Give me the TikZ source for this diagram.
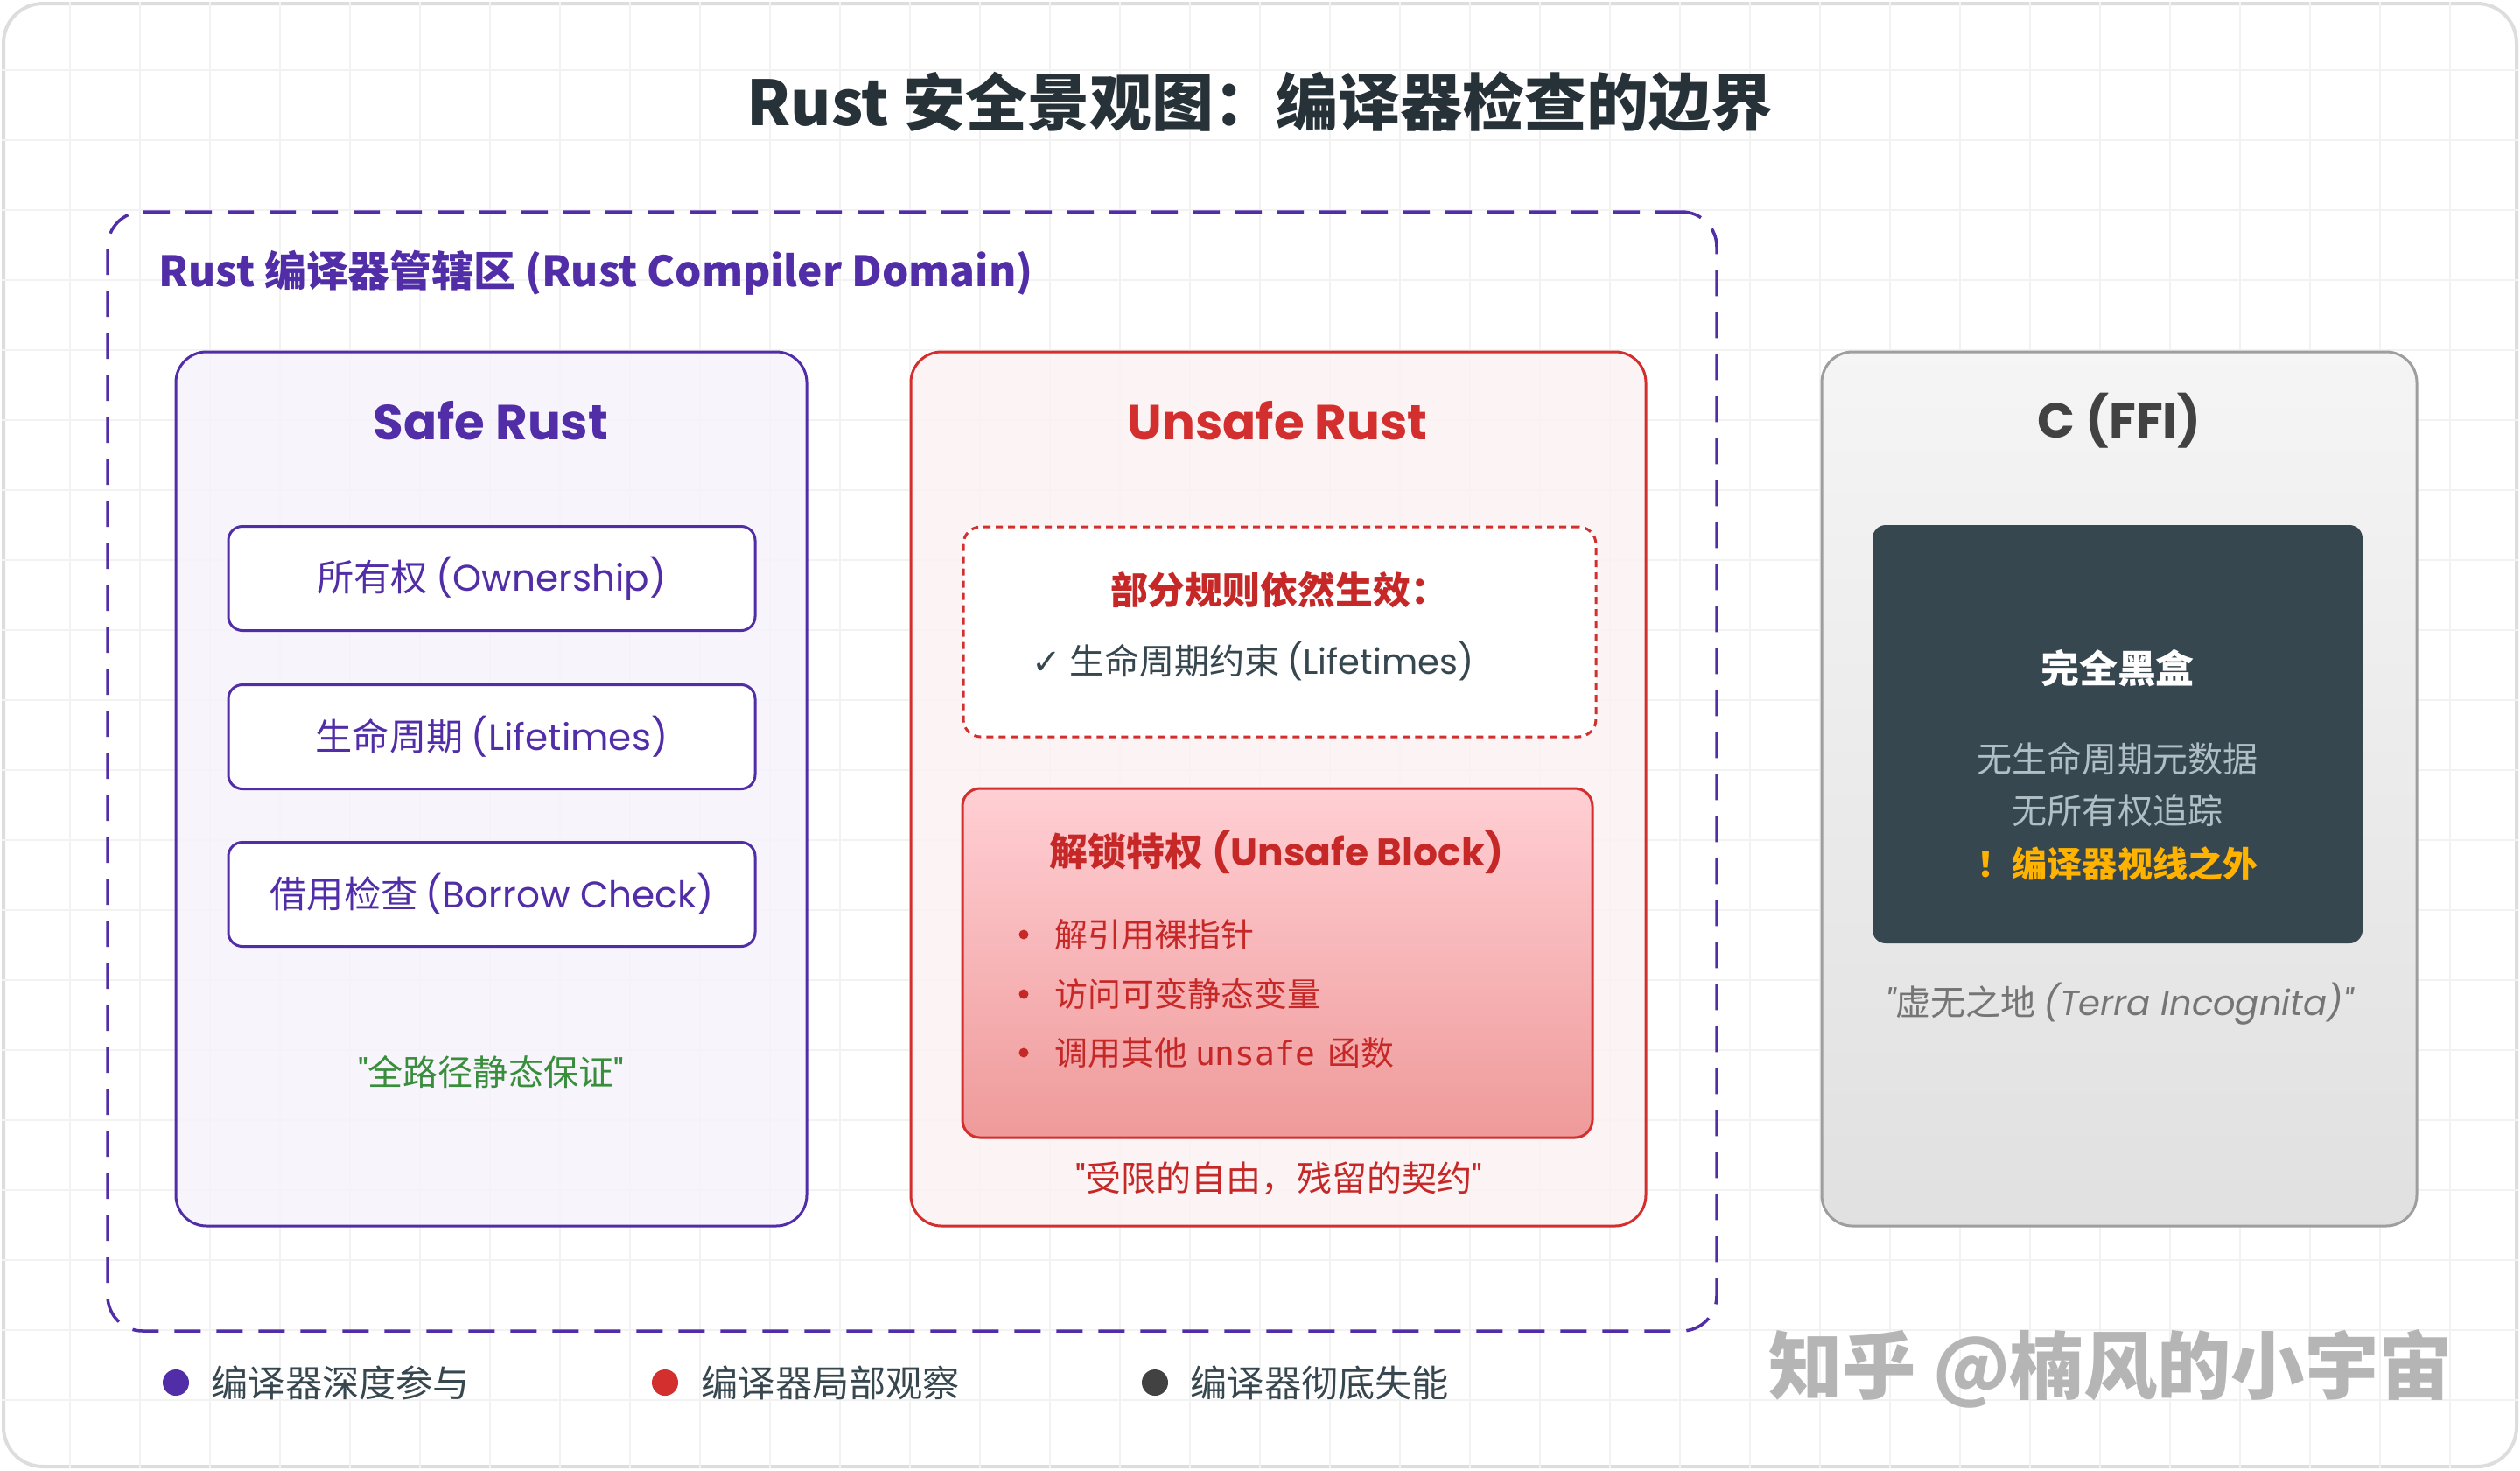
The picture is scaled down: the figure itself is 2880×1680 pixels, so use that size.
\documentclass[tikz,border=0pt]{standalone}
\usepackage{fontspec}
\setmainfont{Noto Sans CJK SC}
\newfontfamily\lat{Poppins}
\newfontfamily\mono{DejaVu Sans Mono}
\newfontfamily\sym{DejaVu Sans}
\definecolor{ink}{HTML}{263238}
\definecolor{purp}{HTML}{512DA8}
\definecolor{redc}{HTML}{D32F2F}
\definecolor{redtext}{HTML}{C62828}
\definecolor{slate}{HTML}{37474F}
\definecolor{greyc}{HTML}{9E9E9E}
\definecolor{greytext}{HTML}{424242}
\definecolor{mist}{HTML}{B0BEC5}
\definecolor{amber}{HTML}{FFB300}
\definecolor{leaf}{HTML}{388E3C}
\definecolor{quotegrey}{HTML}{757575}
\definecolor{gridc}{HTML}{F2F2F2}
\definecolor{framec}{HTML}{DDDDDD}
\definecolor{pinktop}{HTML}{FFCFD4}
\definecolor{pinkbottom}{HTML}{EF9A9A}
\begin{document}
\begin{tikzpicture}[
  x=0.1mm, y=-0.1mm,
  txt/.style={inner sep=0pt},
  heading/.style={txt, font=\lat\bfseries\fontsize{16}{19}\selectfont},
  panel/.style={rounded corners=3.5mm, line width=0.3mm, minimum height=99.9mm},
  featurebox/.style={
    draw=purp,
    fill=white,
    rounded corners=1.6mm,
    line width=0.3mm,
    minimum width=60.2mm,
    minimum height=11.9mm,
    text=purp,
    font=\fontsize{12}{14}\selectfont
  },
  quoteline/.style={txt, font=\fontsize{11.4}{14}\selectfont},
  bulletdot/.style={circle, fill=redtext, inner sep=0pt, minimum size=1.1mm},
  bullettext/.style={txt, anchor=west, text=redtext, font=\fontsize{10.8}{13}\selectfont},
  legenddot/.style={circle, inner sep=0pt, minimum size=3mm},
  legendtext/.style={txt, anchor=west, text=slate, font=\fontsize{12}{14}\selectfont}
]
\useasboundingbox (0,0) rectangle (2880,1680);
\node[draw=framec, line width=0.4mm, fill=white, rounded corners=4.5mm,
  minimum width=287.2mm, minimum height=167.2mm] (canvas) at (1440,840) {};
\begin{scope}
  \clip[rounded corners=4.5mm] (canvas.north west) rectangle (canvas.south east);
  \draw[gridc, line width=0.12mm] (0,0) grid[step=8mm] (2880,1680);
\end{scope}

\node[txt, text=ink, font=\bfseries\fontsize{20.2}{24}\selectfont] (title) at (1440,116)
  {Rust 安全景观图：编译器检查的边界};

\node[draw=purp, line width=0.35mm, dash pattern=on 3mm off 1.8mm, rounded corners=4mm,
  minimum width=183.9mm, minimum height=127.9mm] (domain) at (1042.5,881.5) {};
\node[txt, anchor=west, text=purp, font=\bfseries\fontsize{13.6}{16}\selectfont] (domainlabel)
  at (181,312) {Rust 编译器管辖区 (Rust Compiler Domain)};

\node[panel, draw=purp, fill=purp!5, fill opacity=0.85, minimum width=72.1mm] (safe) at (561.5,901.5) {};
\node[panel, draw=redc, fill=redc!6, fill opacity=0.85, minimum width=84mm] (unsafe) at (1461,901.5) {};
\node[panel, draw=greyc, top color=black!4, bottom color=black!12, minimum width=68mm] (cffi) at (2422,901.5) {};

\node[heading, text=purp] (safehead) at (561,481) {Safe Rust};
\node[heading, text=redc] (unsafehead) at (1460,481) {Unsafe Rust};
\node[heading, text=greytext] (cffihead) at (2422,481) {C (FFI)};

\node[featurebox] (own) at (562,661) {所有权 {\lat (Ownership)}};
\node[featurebox] (life) at (562,842) {生命周期 {\lat (Lifetimes)}};
\node[featurebox] (borrow) at (562,1022) {借用检查 {\lat (Borrow Check)}};
\node[quoteline, text=leaf] (safequote) at (561,1225) {{\lat"}全路径静态保证{\lat"}};

\node[draw=redc, fill=white, line width=0.3mm, dash pattern=on 0.8mm off 0.6mm, rounded corners=2mm,
  minimum width=72.3mm, minimum height=24mm] (rules) at (1462.5,722) {};
\node[txt, text=redtext, font=\bfseries\fontsize{12.2}{15}\selectfont] (ruleshead) at (1462,674) {部分规则依然生效：};
\node[txt, text=slate, font=\fontsize{11.4}{14}\selectfont] (rulesitem) at (1432,755)
  {{\sym ✓} 生命周期约束 {\lat (Lifetimes)}};

\node[draw=redc, line width=0.3mm, rounded corners=2mm, top color=pinktop, bottom color=pinkbottom,
  minimum width=72mm, minimum height=39.9mm] (unlock) at (1460,1100.5) {};
\node[txt, text=redtext, font=\bfseries\fontsize{12.5}{15}\selectfont] (unlockhead) at (1459,974)
  {解锁特权 {\lat (Unsafe Block)}};
\node[bulletdot] (dotderef) at (1170,1068) {};
\node[bullettext] (deref) at (1205,1068) {解引用裸指针};
\node[bulletdot] (dotstatic) at (1170,1136) {};
\node[bullettext] (static) at (1205,1136) {访问可变静态变量};
\node[bulletdot] (dotcall) at (1170,1203) {};
\node[bullettext] (call) at (1205,1203) {调用其他 {\mono unsafe} \,函数};
\node[quoteline, text=redtext] (unsafequote) at (1462,1347) {{\lat"}受限的自由，残留的契约{\lat"}};

\node[fill=slate, rounded corners=1.5mm, minimum width=56mm, minimum height=47.8mm] (blackbox) at (2420,839) {};
\node[txt, text=white, font=\bfseries\fontsize{12.5}{15}\selectfont] (blackhead) at (2420,764) {完全黑盒};
\node[txt, text=mist, font=\fontsize{11.4}{14}\selectfont] (nometa) at (2420,867) {无生命周期元数据};
\node[txt, text=mist, font=\fontsize{11.4}{14}\selectfont] (notrack) at (2420,926) {无所有权追踪};
\node[txt, text=amber, font=\bfseries\fontsize{11.4}{14}\selectfont] (outside) at (2420,987) {！编译器视线之外};
\node[quoteline, text=quotegrey] (cquote) at (2422,1147)
  {{\lat\itshape"}虚无之地 {\lat\itshape(Terra Incognita)"}};

\node[legenddot, fill=purp] (keydeep) at (201,1580) {};
\node[legendtext] (keydeeptext) at (241,1580) {编译器深度参与};
\node[legenddot, fill=redc] (keypart) at (760,1580) {};
\node[legendtext] (keyparttext) at (801,1580) {编译器局部观察};
\node[legenddot, fill=greytext] (keynone) at (1320,1580) {};
\node[legendtext] (keynonetext) at (1360,1580) {编译器彻底失能};

\node[txt, text=black!29, font=\bfseries\fontsize{24}{28}\selectfont] (watermark) at (2412,1564) {知乎 @楠风的小宇宙};
\end{tikzpicture}
\end{document}
